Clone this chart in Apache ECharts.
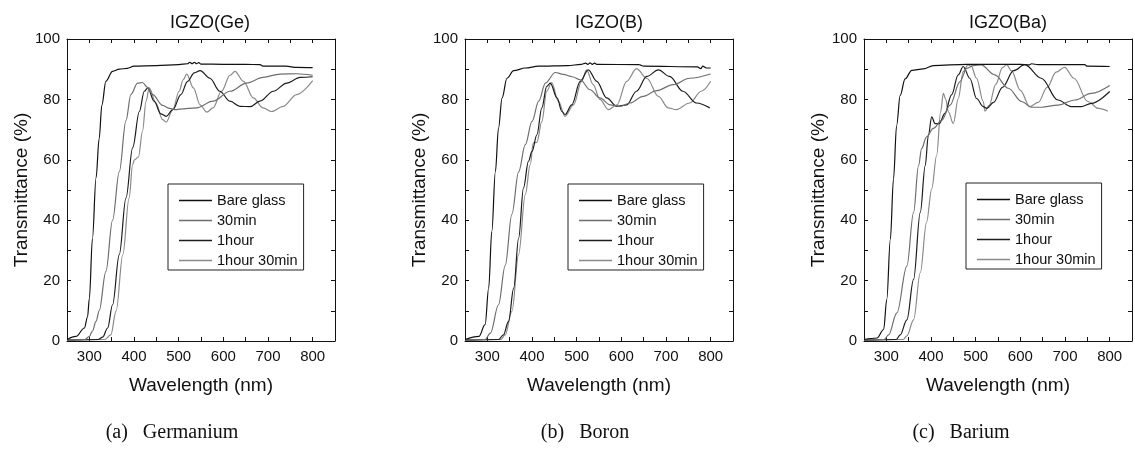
<!DOCTYPE html>
<html>
<head>
<meta charset="utf-8">
<script src="https://cdn.jsdelivr.net/npm/echarts@6/dist/echarts.min.js"></script>
<style>
html,body{margin:0;padding:0;background:#fff;}
#chart{width:1135px;height:453px;}
</style>
</head>
<body>
<div id="chart"></div>
<script>
// ---------- data (wavelength nm, transmittance %) ----------
const seriesNames = ['Bare glass', '30min', '1hour', '1hour 30min'];
const panelTitles = ['IGZO(Ge)', 'IGZO(B)', 'IGZO(Ba)'];
const captions = ['(a)   Germanium', '(b)   Boron', '(c)   Barium'];
const xTickLabels = [300, 400, 500, 600, 700, 800];
const yTickLabels = [0, 20, 40, 60, 80, 100];

const geBare = [[250,0.5],[270,1.5],[289,4.3],[296,8],[300,14],[307,34],[315,54],[322,67],[328,78],[337,86],[352,89.3],[367,90],[385,90.3],[400,91],[450,91.2],[500,91.5],[520,91.8],[525,92.3],[530,91.8],[535,92.3],[540,91.8],[545,92.2],[550,91.7],[600,91.6],[650,91.6],[682,91.5],[690,91],[740,91],[765,90.6],[800,90.5]];
const ge30 = [[250,0.3],[290,0.5],[300,1.5],[307,3.3],[315,6.5],[322,10],[337,23],[352,40],[367,56],[382,73],[393,81.6],[408,85.4],[419,85.6],[430,84],[442,81.6],[464,78],[480,77],[494,76.6],[503,76.8],[540,77.2],[577,79.4],[615,82.7],[652,85.4],[689,87.3],[727,88.4],[764,88.5],[800,88]];
const ge60 = [[250,0.3],[320,0.5],[330,1.3],[341,4.3],[352,12],[367,28.6],[382,47.3],[397,64],[412,76],[423,82.7],[431,83.8],[445,79.4],[460,75.2],[472,74.4],[487,76.6],[505,81.6],[520,86],[535,88.8],[548,89.5],[570,87],[592,82.7],[615,79.4],[637,77.7],[660,77.6],[682,79.4],[712,82.7],[742,85.4],[772,87.3],[800,87.5]];
const ge90 = [[250,0.3],[335,0.5],[348,2],[360,10],[375,28.6],[389,47.3],[397,58.4],[401,60],[410,61],[419,69.4],[427,79.4],[434,83.8],[449,78.8],[464,73.3],[472,72.5],[487,76.6],[501,82.7],[510,86.5],[518,88.4],[533,83.8],[548,78.2],[563,75.8],[577,77.2],[596,82.7],[615,88],[626,89.3],[645,86],[667,80.5],[689,77.2],[708,76],[734,77.7],[764,81.6],[800,86.2]];

const bBare = [[250,0.5],[281,1.5],[295,5.4],[303,17.5],[310,36.3],[318,56],[325,70.5],[333,80.5],[344,87],[359,89.5],[385,90.4],[415,91],[480,91.2],[510,91.6],[520,92],[525,91.6],[530,92.1],[535,91.6],[540,92],[545,91.6],[640,91.5],[650,91],[770,90.8],[778,90.2],[782,91],[790,90.4],[800,90.4]];
const b30 = [[250,0.3],[295,0.5],[307,2.6],[325,12],[340,25],[355,42],[370,56],[385,65],[400,72.7],[415,79.4],[430,85.4],[452,88.9],[470,88.3],[490,87.5],[508,86.5],[530,83.2],[552,80.5],[575,78.2],[597,77.7],[619,78.8],[649,81],[679,82.9],[716,84.9],[753,87],[800,88.4]];
const b60 = [[250,0.3],[325,0.5],[336,2],[347.5,6.5],[359,17.5],[370,34],[381,50.7],[392,59.5],[400,62.8],[411,68.3],[422,77.2],[433,84.3],[441,85.4],[456,80.5],[467,76],[474,75],[489,78.2],[508,86],[526,89.8],[545,86],[567,80.5],[590,77.7],[612,78.2],[634,82.7],[657,87.6],[683,89.8],[708,87.6],[738,82.7],[768,78.8],[798,77.2]];
const b90 = [[250,0.3],[330,0.5],[340,2],[355,9.8],[370,28.6],[385,48.5],[396,58.4],[403,65.6],[411,65.8],[422,72.7],[433,82.7],[444,85.6],[459,79.4],[474,74.4],[493,78.2],[511,86],[522,89.8],[537,84.9],[552,80],[571,76.6],[590,78.2],[612,86],[634,90.2],[657,87],[683,81],[705,77.2],[723,76.6],[753,78.8],[779,82.7],[800,86]];

const baBare = [[250,0.5],[279,1],[294,3.8],[301,13.8],[309,33.7],[316,53.6],[323,71.3],[331,81.3],[342,86.8],[357,89.6],[383,90.1],[405,91.2],[480,91.6],[600,91.6],[620,91.4],[625,91.8],[640,91.5],[744,91.5],[750,91],[800,90.9]];
const ba30 = [[250,0.3],[295,0.5],[305,2],[323.6,9.3],[346,24.8],[361,42.6],[372,58],[379,63.7],[390,67.6],[405,70.4],[424,73.1],[442.5,78.1],[465,85.9],[480,90.3],[495,91.2],[512,91.4],[543,88.1],[573,83.7],[603,79.3],[625,77.4],[647,77.4],[684,78.1],[722,79.8],[759,82],[800,84.6]];
const ba60 = [[250,0.3],[322,0.5],[331,2],[346,7],[361,20.4],[376,42.6],[387,58],[394,68],[401.6,74.2],[409,72],[418.7,72],[431,75.4],[446,81.5],[461,88.1],[472,90.9],[487,87],[502,80.3],[517,77.6],[525,77],[540,79],[560,84],[585,89.5],[610,91.5],[647,87],[684,79.8],[714,77.6],[736,77.6],[759,78.7],[800,82.6]];
const ba90 = [[250,0.3],[338,0.5],[346,1.7],[361,7],[376,22.6],[390,39.3],[401.6,50.4],[412.7,61.5],[421.6,75.9],[427.6,82],[433,80],[438.8,75.9],[450,72],[461,80.3],[472,89.2],[483,91.4],[490,91],[502,87],[517,79.3],[521,76.1],[530,78],[545,85],[560,90.5],[569.5,91.5],[580,89.5],[600,83],[621,77.6],[640,79],[660,84],[680,89],[699,90.6],[720,87],[751,79.3],[775,77],[796,76.1]];

const panelData = [
  [geBare, ge30, ge60, ge90],
  [bBare, b30, b60, b90],
  [baBare, ba30, ba60, ba90]
];

// ---------- styling / layout ----------
const FONT = '"Liberation Sans", Arial, sans-serif';
const seriesColors = ['#111111', '#6e6e6e', '#1c1c1c', '#8a8a8a'];
const grids = [
  {left: 67, top: 39, width: 268, height: 302},
  {left: 465, top: 39, width: 268, height: 302},
  {left: 864, top: 39, width: 269, height: 302}
];
const titleX = [205, 604, 1003];
const captionX = [172, 585, 961];
const legendPos = [{left: 168, top: 184}, {left: 568, top: 184}, {left: 966, top: 183}];

const chart = echarts.init(document.getElementById('chart'), null, {renderer: 'canvas'});

const axisLine = {show: true, onZero: false, lineStyle: {color: '#111', width: 1}};
const xAxes = [], yAxes = [], series = [], titles = [], legends = [], graphics = [];

grids.forEach((g, i) => {
  xAxes.push({
    gridIndex: i, type: 'value', position: 'bottom', min: 250, max: 850, interval: 50,
    axisLine: axisLine,
    axisTick: {show: true, inside: true, length: 4, lineStyle: {color: '#111'}},
    axisLabel: {
      margin: 8, color: '#111', fontSize: 15, fontFamily: FONT,
      formatter: v => (xTickLabels.indexOf(v) >= 0 ? String(v) : '')
    },
    splitLine: {show: false},
    name: 'Wavelength (nm)', nameLocation: 'middle', nameGap: 35,
    nameTextStyle: {fontSize: 19, color: '#111', fontFamily: FONT}
  });
  xAxes.push({
    gridIndex: i, type: 'value', position: 'top', min: 250, max: 850, interval: 50,
    axisLine: axisLine,
    axisTick: {show: true, inside: true, length: 4, lineStyle: {color: '#111'}},
    axisLabel: {show: false}, splitLine: {show: false}
  });
  yAxes.push({
    gridIndex: i, type: 'value', position: 'left', min: 0, max: 100, interval: 10,
    axisLine: axisLine,
    axisTick: {show: true, inside: true, length: 4, lineStyle: {color: '#111'}},
    axisLabel: {
      margin: 7, color: '#111', fontSize: 15, fontFamily: FONT,
      formatter: v => (yTickLabels.indexOf(v) >= 0 ? String(v) : '')
    },
    splitLine: {show: false},
    name: 'Transmittance (%)', nameLocation: 'middle', nameGap: 35,
    nameTextStyle: {fontSize: 19, color: '#111', fontFamily: FONT}
  });
  yAxes.push({
    gridIndex: i, type: 'value', position: 'right', min: 0, max: 100, interval: 10,
    axisLine: axisLine,
    axisTick: {show: true, inside: true, length: 4, lineStyle: {color: '#111'}},
    axisLabel: {show: false}, splitLine: {show: false}
  });
  panelData[i].forEach((d, k) => {
    series.push({
      type: 'line', name: seriesNames[k], data: d,
      xAxisIndex: i * 2, yAxisIndex: i * 2,
      symbol: 'none', smooth: 0.35, smoothMonotone: 'x',
      lineStyle: {color: seriesColors[k], width: 1.2},
      itemStyle: {color: seriesColors[k]},
      emphasis: {disabled: true}, z: 5 - k
    });
  });
  titles.push({
    text: panelTitles[i], left: titleX[i], top: 9, textAlign: 'center',
    textStyle: {fontSize: 18, fontWeight: 'normal', color: '#111', fontFamily: FONT}
  });
  legends.push({
    data: seriesNames.map((n, k) => ({name: n, icon: 'rect', itemStyle: {color: seriesColors[k]}})),
    orient: 'vertical', left: legendPos[i].left, top: legendPos[i].top,
    itemWidth: 33, itemHeight: 1.4, itemGap: 5,
    padding: [9, 6, 2, 11], borderColor: '#222', borderWidth: 1,
    textStyle: {fontSize: 14.5, lineHeight: 14, color: '#111', fontFamily: FONT},
    selectedMode: false
  });
  graphics.push({
    type: 'text', x: captionX[i], y: 433,
    style: {text: captions[i], font: '20px "Liberation Serif", "Times New Roman", serif', fill: '#111',
            textAlign: 'center', textVerticalAlign: 'middle'}
  });
});

chart.setOption({
  animation: false,
  backgroundColor: '#fff',
  title: titles,
  legend: legends,
  grid: grids,
  xAxis: xAxes,
  yAxis: yAxes,
  series: series,
  graphic: graphics
});
</script>
</body>
</html>
